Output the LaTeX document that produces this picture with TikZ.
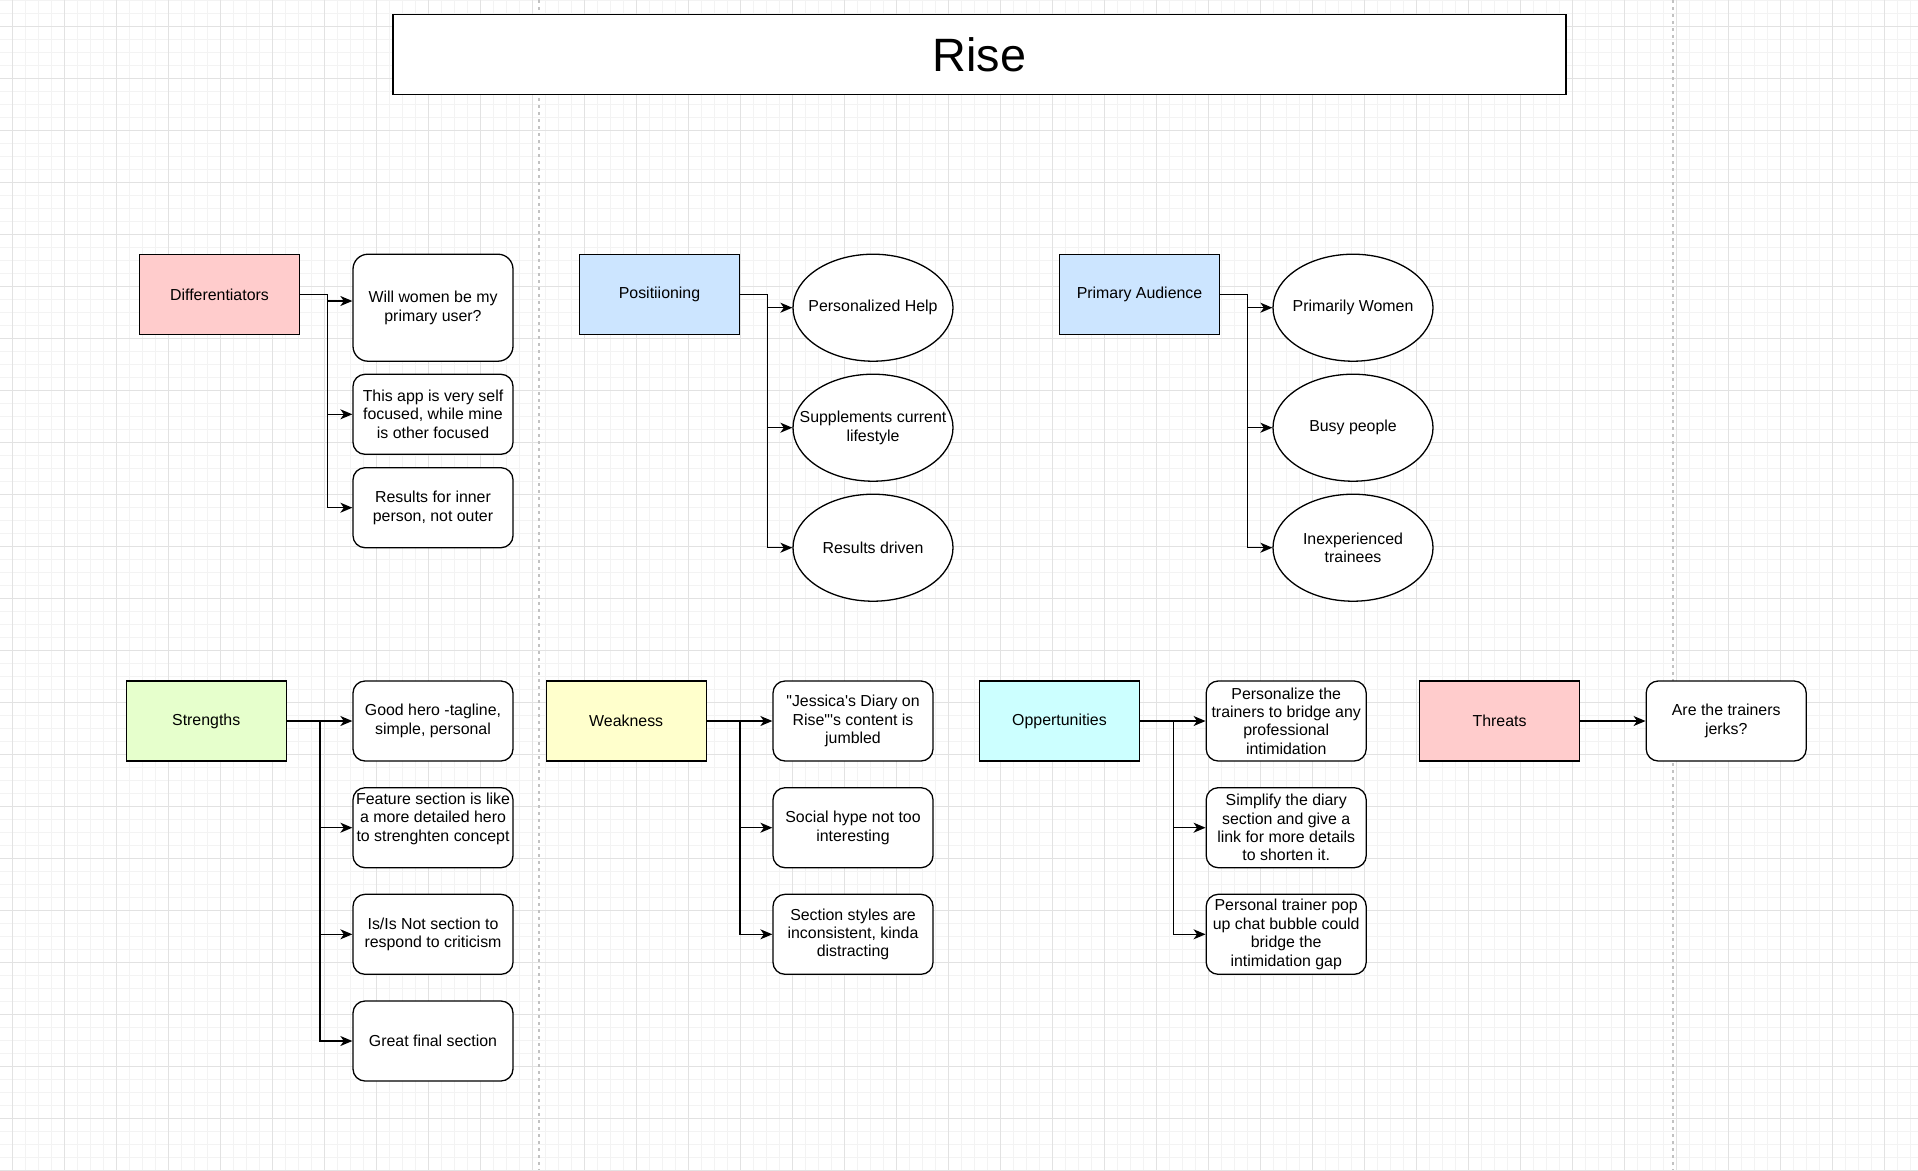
\documentclass[tikz,border=0pt]{standalone}
\usepackage{fontspec}
\setmainfont{Liberation Sans}
\usetikzlibrary{arrows.meta,shapes.geometric,calc}
\definecolor{gridmaj}{HTML}{E2E2E2}
\definecolor{gridmin}{HTML}{F3F3F3}
\definecolor{pagebrk}{HTML}{C2C2C2}
\definecolor{fpink}{HTML}{FFCCCC}
\definecolor{fblue}{HTML}{CCE5FF}
\definecolor{fgreen}{HTML}{E6FFCC}
\definecolor{fyellow}{HTML}{FFFFCC}
\definecolor{fcyan}{HTML}{CCFFFF}
\newcommand\bodyfont{\fontsize{15.9pt}{18.4pt}\selectfont}
\tikzset{
  hdr/.style={draw=black, line width=1.3pt, minimum width=160pt, minimum height=80pt, inner sep=0pt, align=center, font=\bodyfont},
  itm/.style={draw=black, fill=white, line width=1.3pt, rounded corners=12pt, minimum width=160pt, minimum height=80pt, inner sep=0pt, align=center, font=\bodyfont},
  itmtext/.style={align=center, font=\bodyfont, inner sep=0pt},
  oval/.style={ellipse, draw=black, fill=white, line width=1.3pt, minimum width=160pt, minimum height=107pt, inner xsep=-40pt, inner ysep=0pt, align=center, font=\bodyfont},
  titlebox/.style={draw=black, fill=white, line width=1.3pt, minimum width=1173pt, minimum height=80pt, inner sep=0pt, font=\fontsize{46.8pt}{56pt}\selectfont},
  conn/.style={-{Stealth[length=12pt,width=10pt,inset=3.5pt]}, line width=1.3pt, draw=black}
}
\begin{document}
\begin{tikzpicture}[x=1pt,y=-1pt]
\useasboundingbox (0,0) rectangle (1918,1170);
\fill[white] (0,0) rectangle (1918,1170);
% grid
\foreach \i in {0,...,148} \draw[gridmin, line width=1pt] ({-0.3+13*\i},0) -- ++(0,1170);
\foreach \j in {0,...,90} \draw[gridmin, line width=1pt] (0,{0.3+13*\j}) -- ++(1918,0);
\foreach \i in {0,...,36} \draw[gridmaj, line width=1pt] ({12.7+52*\i},0) -- ++(0,1170);
\foreach \j in {0,...,22} \draw[gridmaj, line width=1pt] (0,{26.3+52*\j}) -- ++(1918,0);
% page breaks
\draw[pagebrk, line width=1.2pt, dash pattern=on 3pt off 4pt] (539,0) -- (539,1170);
\draw[pagebrk, line width=1.2pt, dash pattern=on 3pt off 4pt] (1673,0) -- (1673,1170);

% title
\node[titlebox] (rise) at (979.5,54.5) {Rise};

% Differentiators
\node[hdr, fill=fpink] (diff) at (219.5,294.5) {Differentiators};
\node[itm, minimum height=107pt, rounded corners=15pt] (d1) at (433,307.7) {Will women be my\\primary user?};
\node[itm] (d2) at (433,414.3) {This app is very self\\focused, while mine\\is other focused};
\node[itm] (d3) at (433,507.7) {Results for inner\\person, not outer};

% Positioning
\node[hdr, fill=fblue] (pos) at (659.5,294.5) {Positiioning};
\node[oval] (p1) at (873,307.7) {Personalized Help};
\node[oval] (p2) at (873,427.7) {Supplements current\\lifestyle};
\node[oval] (p3) at (873,547.7) {Results driven};

% Primary Audience
\node[hdr, fill=fblue] (aud) at (1139.5,294.5) {Primary Audience};
\node[oval] (a1) at (1353,307.7) {Primarily Women};
\node[oval] (a2) at (1353,427.7) {Busy people};
\node[oval] (a3) at (1353,547.7) {Inexperienced\\trainees};

% Strengths
\node[hdr, fill=fgreen] (str) at (206.2,721) {Strengths};
\node[itm] (s1) at (433,721) {Good hero -tagline,\\simple, personal};
\node[itm, label={[itmtext, yshift=9pt]center:{Feature section is like\\a more detailed hero\\to strenghten concept}}] (s2) at (433,827.7) {};
\node[itm] (s3) at (433,934.3) {Is/Is Not section to\\respond to criticism};
\node[itm] (s4) at (433,1041) {Great final section};

% Weakness
\node[hdr, fill=fyellow] (wk) at (626.2,721) {Weakness};
\node[itm] (w1) at (853,721) {\textquotedbl Jessica\textquotesingle s Diary on\\Rise\textquotedbl\textquotesingle s content is\\jumbled};
\node[itm] (w2) at (853,827.7) {Social hype not too\\interesting};
\node[itm] (w3) at (853,934.3) {Section styles are\\inconsistent, kinda\\distracting};

% Oppertunities
\node[hdr, fill=fcyan] (opp) at (1059.5,721) {Oppertunities};
\node[itm] (o1) at (1286.2,721) {Personalize the\\trainers to bridge any\\professional\\intimidation};
\node[itm] (o2) at (1286.2,827.7) {Simplify the diary\\section and give a\\link for more details\\to shorten it.};
\node[itm] (o3) at (1286.2,934.3) {Personal trainer pop\\up chat bubble could\\bridge the\\intimidation gap};

% Threats
\node[hdr, fill=fpink] (thr) at (1499.5,721) {Threats};
\node[itm] (t1) at (1726.2,721) {Are the trainers\\jerks?};

% connectors
\draw[conn] (diff.east) -- ++(27,0) |- ([yshift=6.7pt]d1.west);
\foreach \c in {d2,d3} \draw[conn] (diff.east) -- ++(27,0) |- (\c.west);
\foreach \c in {p1,p2,p3} \draw[conn] (pos.east) -- ++(27,0) |- (\c.west);
\foreach \c in {a1,a2,a3} \draw[conn] (aud.east) -- ++(27,0) |- (\c.west);
\foreach \c in {s1,s2,s3,s4} \draw[conn] (str.east) -- ++(33,0) |- (\c.west);
\foreach \c in {w1,w2,w3} \draw[conn] (wk.east) -- ++(33,0) |- (\c.west);
\foreach \c in {o1,o2,o3} \draw[conn] (opp.east) -- ++(33,0) |- (\c.west);
\draw[conn] (thr.east) -- (t1.west);
\end{tikzpicture}
\end{document}
